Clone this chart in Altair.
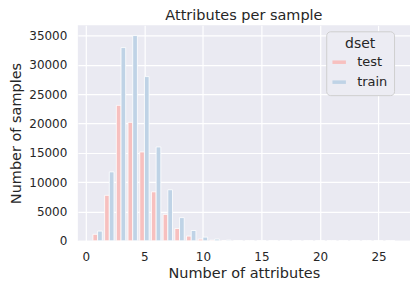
import altair as alt
import pandas as pd

n_attr = list(range(1, 27))
test_counts = [1100, 7750, 23100, 20200, 15150, 8350, 4500, 2100, 800, 290, 100, 40,
               15, 6, 3, 2, 1, 1, 1, 0, 0, 0, 0, 0, 0, 1]
train_counts = [1650, 11750, 32950, 35000, 28000, 16000, 8700, 3950, 1750, 620, 290, 110,
                45, 20, 8, 4, 2, 1, 1, 1, 0, 0, 0, 0, 0, 1]

rows = []
for k, a, b in zip(n_attr, test_counts, train_counts):
    rows.append({"n": k, "dset": "test", "count": a, "off0": -0.4, "off1": 0.0})
    rows.append({"n": k, "dset": "train", "count": b, "off0": 0.0, "off1": 0.4})
df = pd.DataFrame(rows)

FONT = "DejaVu Sans"
TXT = "#262626"

chart = (
    alt.Chart(df)
    .transform_calculate(x0="datum.n + datum.off0", x1="datum.n + datum.off1")
    .mark_rect(stroke="white", strokeWidth=0.8)
    .encode(
        x=alt.X("x0:Q", title="Number of attributes",
                scale=alt.Scale(domain=[-0.69, 27.69], nice=False, zero=False),
                axis=alt.Axis(values=[0, 5, 10, 15, 20, 25], format="d",
                              titleFontWeight=400, titleFontSize=14.5, titleFont=FONT,
                              titleColor=TXT, titlePadding=4)),
        x2="x1:Q",
        y=alt.Y("count:Q", title="Number of samples",
                scale=alt.Scale(domain=[0, 36750], nice=False),
                axis=alt.Axis(values=[0, 5000, 10000, 15000, 20000, 25000, 30000, 35000], format="d",
                              titleFontWeight=400, titleFontSize=14.5, titleFont=FONT,
                              titleColor=TXT, titleX=-54, titleY=108,
                              titleAngle=270, titleAlign="center", titleBaseline="bottom")),
        y2=alt.datum(0),
        color=alt.Color("dset:N", title="dset",
                        scale=alt.Scale(domain=["test", "train"], range=["#f7c0bf", "#bfd3e6"]),
                        legend=alt.Legend(orient="none", legendX=249, legendY=6,
                                          fillColor="#ececf3", strokeColor="#cfcfcf",
                                          cornerRadius=4, padding=6,
                                          titleAnchor="middle", titleAlign="center",
                                          titleFontSize=14, titleFontWeight=400,
                                          titleColor=TXT, titleFont=FONT, titlePadding=4,
                                          labelFontSize=13, labelColor=TXT, labelFont=FONT,
                                          labelOffset=11,
                                          symbolType="M-1,-0.26H1V0.26H-1Z", symbolSize=182,
                                          symbolStrokeWidth=0, symbolOpacity=1,
                                          rowPadding=6)),
    )
    .properties(
        width=333, height=216,
        title=alt.TitleParams("Attributes per sample", fontSize=14.5, font=FONT,
                              fontWeight=400, color=TXT, offset=2),
        autosize=alt.AutoSizeParams(type="none"),
        padding={"left": 70, "top": 17, "right": 0, "bottom": 48},
        background="white",
    )
    .configure_view(fill="#eaeaf2", stroke=None)
    .configure_axis(grid=True, gridColor="white", gridWidth=1.2, domain=False, ticks=False,
                    labelFont=FONT, labelFontSize=12, labelColor=TXT, labelPadding=11)
)

chart.save("out.html", embed_options={"renderer": "svg", "actions": False})
